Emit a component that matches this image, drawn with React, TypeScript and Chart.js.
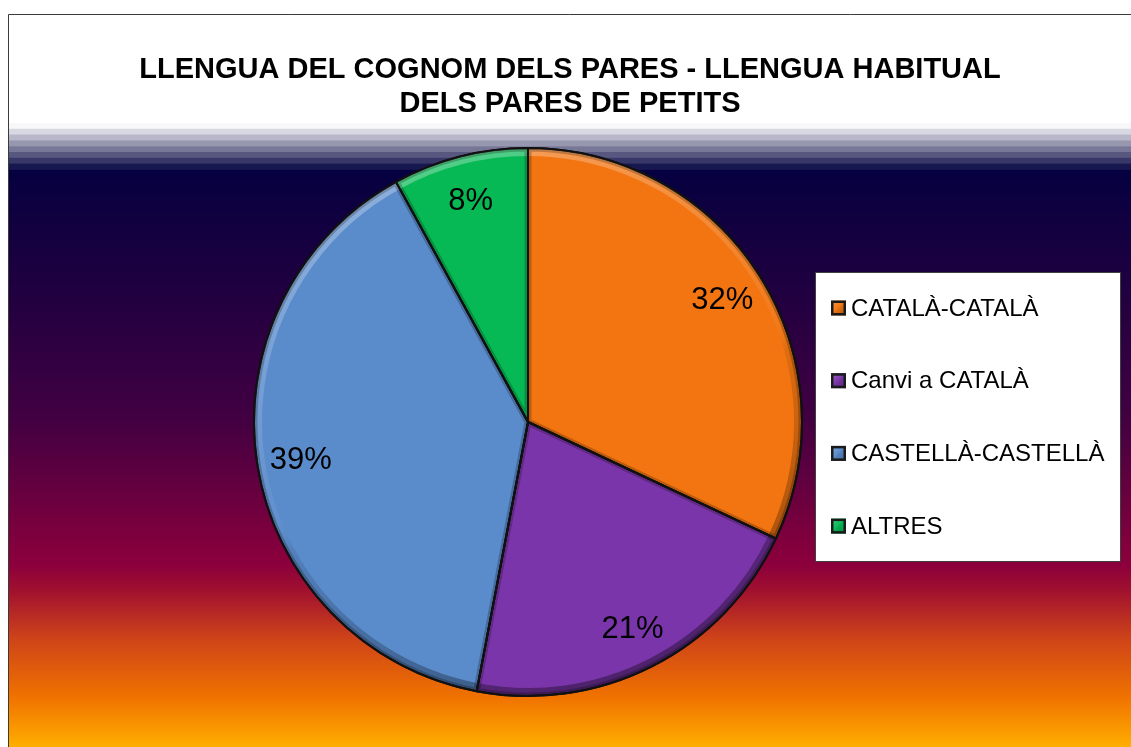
import React, { useEffect, useRef } from "react";
import { Chart, registerables } from "chart.js";

Chart.register(...registerables);

const TITLE_LINES = ["LLENGUA DEL COGNOM DELS PARES - LLENGUA HABITUAL", "DELS PARES DE PETITS"];
const CATEGORIES = ["CATALÀ-CATALÀ", "Canvi a CATALÀ", "CASTELLÀ-CASTELLÀ", "ALTRES"];
const VALUES = [32, 21, 39, 8];
const COLORS = ["#F27511", "#7B35AA", "#5A8BCB", "#07B955"];

const W = 1123;
const H = 733;
const FONT = "'Liberation Sans', Arial, sans-serif";

// background bands (canvas y) : white -> navy stripes, then sunset gradient
const BAND_COLORS = ["#f8f8fa", "#d8d8e2", "#b7b7c9", "#9797af", "#777797", "#57577f", "#373768", "#181850"];

const backgroundPlugin = {
  id: "bgFrame",
  beforeDraw(chart: any) {
    const ctx = chart.ctx as CanvasRenderingContext2D;
    ctx.save();
    ctx.fillStyle = "#ffffff";
    ctx.fillRect(0, 0, W, H);
    const bandTop = 109;
    const bandH = 5.8;
    BAND_COLORS.forEach((c, i) => {
      ctx.fillStyle = c;
      ctx.fillRect(0, bandTop + i * bandH, W, bandH + 0.5);
    });
    const gTop = bandTop + BAND_COLORS.length * bandH;
    const g = ctx.createLinearGradient(0, gTop, 0, H);
    const span = H - gTop;
    const stop = (y: number, c: string) => g.addColorStop(Math.min(1, Math.max(0, (y - 14 - gTop) / span)), c);
    stop(169, "#050040");
    stop(300, "#220040");
    stop(420, "#420042");
    stop(565, "#8c003c");
    stop(590, "#a0102f");
    stop(640, "#cf4518");
    stop(697, "#f07200");
    stop(747, "#ffae00");
    ctx.fillStyle = g;
    ctx.fillRect(0, gTop, W, H - gTop);
    // frame border (left/top visible)
    ctx.strokeStyle = "#3a3a3a";
    ctx.lineWidth = 1;
    ctx.beginPath();
    ctx.moveTo(0.5, H);
    ctx.lineTo(0.5, 0.5);
    ctx.lineTo(W, 0.5);
    ctx.stroke();
    // title
    ctx.fillStyle = "#000000";
    ctx.font = `bold 29px ${FONT}`;
    ctx.textAlign = "center";
    ctx.textBaseline = "middle";
    ctx.fillText(TITLE_LINES[0], W / 2 + 0.5, 55.5);
    ctx.fillText(TITLE_LINES[1], W / 2 + 0.5, 89.5);
    ctx.restore();
  },
};

const bevelLabelPlugin = {
  id: "bevelLabels",
  afterDatasetsDraw(chart: any) {
    const ctx = chart.ctx as CanvasRenderingContext2D;
    const meta = chart.getDatasetMeta(0);
    const data = chart.data.datasets[0].data as number[];
    const total = data.reduce((a, b) => a + b, 0);
    meta.data.forEach((arc: any) => {
      const { x, y, startAngle, endAngle, outerRadius } = arc.getProps(["x", "y", "startAngle", "endAngle", "outerRadius"], true);
      const path = () => {
        ctx.beginPath();
        ctx.moveTo(x, y);
        ctx.arc(x, y, outerRadius, startAngle, endAngle);
        ctx.closePath();
      };
      ctx.save();
      path();
      ctx.clip();
      // outer rim bevel: light at top, dark at bottom
      const g = ctx.createLinearGradient(x - outerRadius * 0.4, y - outerRadius, x + outerRadius * 0.4, y + outerRadius);
      g.addColorStop(0, "rgba(255,255,255,0.32)");
      g.addColorStop(0.5, "rgba(255,255,255,0.04)");
      g.addColorStop(0.55, "rgba(0,0,0,0.08)");
      g.addColorStop(1, "rgba(0,0,0,0.4)");
      ctx.strokeStyle = g;
      ctx.lineWidth = 16;
      ctx.beginPath();
      ctx.arc(x, y, outerRadius, startAngle, endAngle);
      ctx.stroke();
      // soft dark inner edge along all sides
      ctx.strokeStyle = "rgba(0,0,0,0.22)";
      ctx.lineWidth = 7;
      ctx.lineJoin = "round";
      path();
      ctx.stroke();
      ctx.restore();
      ctx.save();
      ctx.strokeStyle = "#111111";
      ctx.lineWidth = 2;
      ctx.lineJoin = "round";
      path();
      ctx.stroke();
      ctx.restore();
    });
    // percentage labels
    ctx.save();
    ctx.fillStyle = "#000000";
    ctx.font = `31px ${FONT}`;
    ctx.textAlign = "center";
    ctx.textBaseline = "middle";
    meta.data.forEach((arc: any, i: number) => {
      const { x, y, startAngle, endAngle, outerRadius } = arc.getProps(["x", "y", "startAngle", "endAngle", "outerRadius"], true);
      const mid = (startAngle + endAngle) / 2;
      const r = outerRadius * 0.84;
      const pct = Math.round((data[i] / total) * 100);
      ctx.fillText(`${pct}%`, x + Math.cos(mid) * r, y + Math.sin(mid) * r + 2);
    });
    ctx.restore();
  },
  afterDraw(chart: any) {
    const ctx = chart.ctx as CanvasRenderingContext2D;
    const labels = chart.data.labels as string[];
    const colors = chart.data.datasets[0].backgroundColor as string[];
    const bx = 807, by = 258, bw = 306, bh = 290;
    ctx.save();
    ctx.fillStyle = "#ffffff";
    ctx.fillRect(bx, by, bw, bh);
    ctx.strokeStyle = "#404040";
    ctx.lineWidth = 1;
    ctx.strokeRect(bx + 0.5, by + 0.5, bw - 1, bh - 1);
    ctx.font = `24px ${FONT}`;
    ctx.textAlign = "left";
    ctx.textBaseline = "middle";
    labels.forEach((lab, i) => {
      const cy = 294 + i * 72.7;
      const mx = 823, my = cy - 7.5, ms = 15;
      ctx.fillStyle = colors[i];
      ctx.fillRect(mx, my, ms, ms);
      const g = ctx.createLinearGradient(mx, my, mx + ms, my + ms);
      g.addColorStop(0, "rgba(255,255,255,0.25)");
      g.addColorStop(0.5, "rgba(255,255,255,0)");
      g.addColorStop(0.5, "rgba(0,0,0,0.05)");
      g.addColorStop(1, "rgba(0,0,0,0.3)");
      ctx.fillStyle = g;
      ctx.fillRect(mx, my, ms, ms);
      ctx.strokeStyle = "#1a1a1a";
      ctx.lineWidth = 2.5;
      ctx.strokeRect(mx + 1.25, my + 1.25, ms - 2.5, ms - 2.5);
      ctx.fillStyle = "#000000";
      ctx.fillText(lab, 843, cy + 1);
    });
    ctx.restore();
  },
};

export default function App() {
  const ref = useRef<HTMLCanvasElement | null>(null);
  useEffect(() => {
    if (!ref.current) return;
    const chart = new Chart(ref.current, {
      type: "pie",
      data: {
        labels: CATEGORIES,
        datasets: [
          {
            data: VALUES,
            backgroundColor: COLORS,
            borderColor: "#111111",
            borderWidth: 2,
          },
        ],
      },
      options: {
        responsive: false,
        animation: false,
        layout: { padding: { left: 245, right: 328, top: 133, bottom: 50 } },
        plugins: {
          legend: { display: false },
          title: { display: false },
          tooltip: { enabled: false },
        },
      },
      plugins: [backgroundPlugin, bevelLabelPlugin],
    });
    return () => chart.destroy();
  }, []);
  return (
    <div style={{ position: "fixed", left: 8, top: 14, width: W, height: H, overflow: "hidden" }}>
      <canvas ref={ref} width={W} height={H} style={{ display: "block", width: W, height: H }} />
    </div>
  );
}
